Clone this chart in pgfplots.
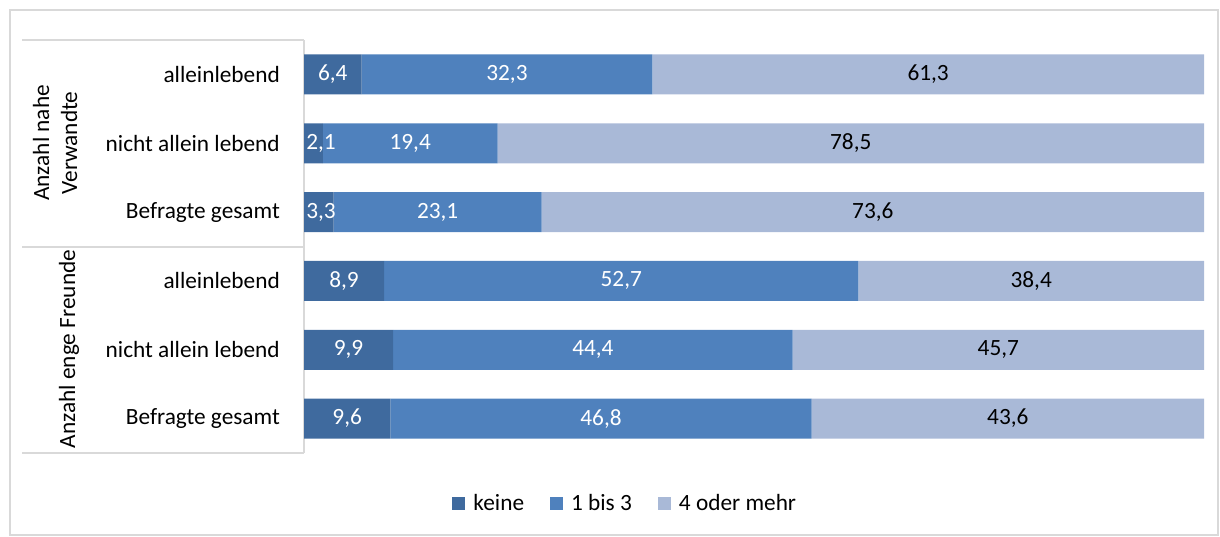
\documentclass[border=0pt]{standalone}
\usepackage{fontspec}
\setmainfont{Carlito}
\usepackage{pgfplots}
\pgfplotsset{compat=1.18}

\definecolor{cKeine}{RGB}{63,106,158}
\definecolor{cMittel}{RGB}{79,129,189}
\definecolor{cViele}{RGB}{169,185,215}
\definecolor{frame}{RGB}{217,217,217}

\newcommand{\chartfont}{\fontsize{23.3}{28}\selectfont}

\begin{document}
\chartfont
\begin{tikzpicture}[x=1pt,y=1pt]
\useasboundingbox (0,0) rectangle (1220,536);
% outer frame
\draw[frame, line width=1.2pt] (10,1) rectangle (1218,526);
% category grid on the left
\draw[frame, line width=1.2pt] (22,496) -- (304,496);
\draw[frame, line width=1.2pt] (22,289) -- (304,289);
\draw[frame, line width=1.2pt] (22,83) -- (304,83);
\node[rotate=90, align=center, font=\chartfont] at (55,393) {Anzahl nahe\\Verwandte};
\node[rotate=90, font=\chartfont] at (69,187) {Anzahl enge Freunde};

\begin{axis}[
    at={(304pt,83pt)}, anchor=south west,
    scale only axis, width=900pt, height=413pt,
    xbar stacked,
    bar width=40pt,
    xmin=0, xmax=100,
    ymin=-0.5, ymax=5.5, y dir=reverse,
    hide x axis,
    axis y line*=left,
    axis line style={draw=frame, line width=1.2pt},
    ytick={0,...,5},
    yticklabels={alleinlebend, nicht allein lebend, Befragte gesamt, alleinlebend, nicht allein lebend, Befragte gesamt},
    major tick length=0pt,
    yticklabel style={anchor=east, inner sep=0pt, xshift=-24pt},
    tick label style={font=\chartfont},
    nodes near coords,
    point meta=rawx,
    visualization depends on=rawx \as \rawxval,
    every node near coord/.append style={anchor=center, font=\chartfont},
    /pgf/number format/.cd, fixed, fixed zerofill, precision=1, use comma, assume math mode=true,
    /pgfplots/.cd,
    legend columns=3,
    legend style={at={(0.357,-0.123)}, anchor=center, draw=none, fill=none,
        font=\chartfont,
        /tikz/every even column/.append style={column sep=24pt}},
    legend image code/.code={\fill[#1] (0pt,-6.5pt) rectangle (13pt,6.5pt); \path (19pt,0pt);},
]
% labels of narrow segments are pushed right so they start inside the bar
\addplot[fill=cKeine, draw=none, every node near coord/.append style={text=white,
    xshift={max(0,17-4.5*\rawxval)}}] coordinates {
    (6.4,0) (2.1,1) (3.3,2) (8.9,3) (9.9,4) (9.6,5)
};
\addplot[fill=cMittel, draw=none, every node near coord/.append style={text=white}] coordinates {
    (32.3,0) (19.4,1) (23.1,2) (52.7,3) (44.4,4) (46.8,5)
};
\addplot[fill=cViele, draw=none, every node near coord/.append style={text=black}] coordinates {
    (61.3,0) (78.5,1) (73.6,2) (38.4,3) (45.7,4) (43.6,5)
};
\legend{keine, 1 bis 3, 4 oder mehr}
\end{axis}
\end{tikzpicture}
\end{document}
